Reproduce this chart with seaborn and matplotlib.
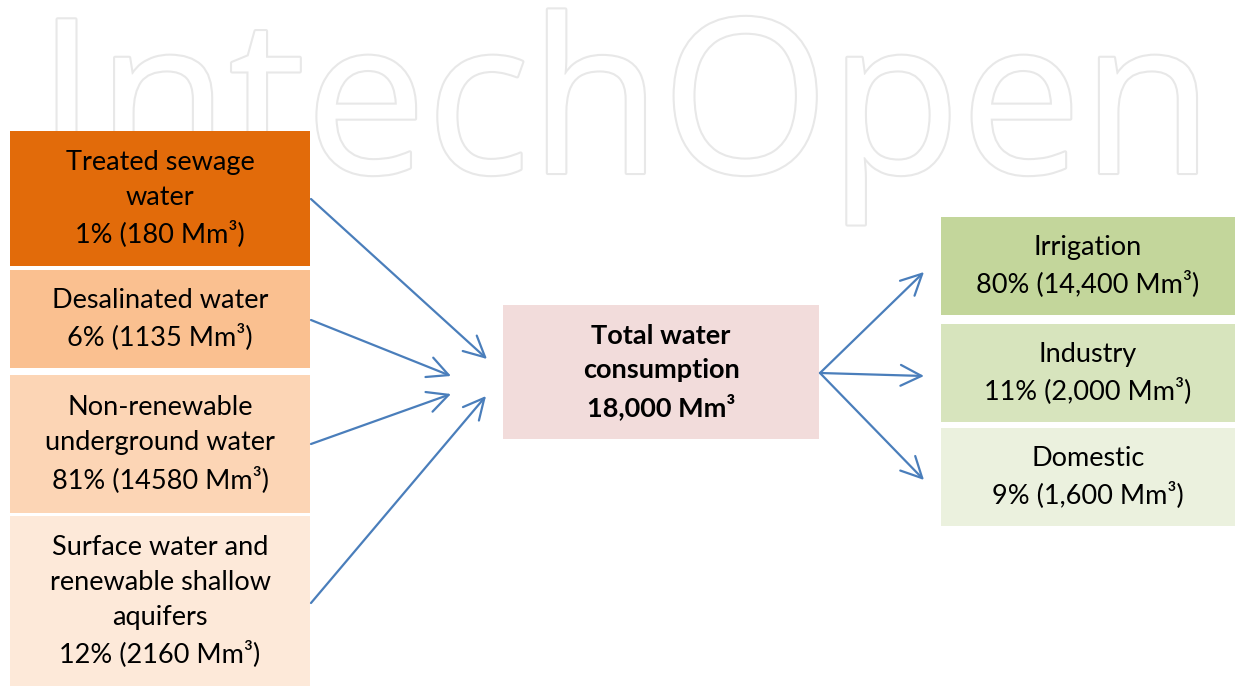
import matplotlib.pyplot as plt
import matplotlib.patheffects as pe
from matplotlib.patches import Rectangle
import seaborn as sb

# sources of water (left column)
source_names = ["Treated sewage\nwater", "Desalinated water",
                "Non-renewable\nunderground water",
                "Surface water and\nrenewable shallow\naquifers"]
source_pct = [1, 6, 81, 12]
source_vol = [180, 1135, 14580, 2160]

# total
total_name = "Total water\nconsumption"
total_vol = 18000

# uses of water (right column)
use_names = ["Irrigation", "Industry", "Domestic"]
use_pct = [80, 11, 9]
use_vol = [14400, 2000, 1600]

# layout in pixels (x0, y0, x1, y1)
source_boxes = [(10, 131, 310, 266), (10, 270, 310, 368),
                (10, 375, 310, 513), (10, 516, 310, 686)]
source_colors = ["#E26B0A", "#FAC090", "#FCD5B5", "#FDE9D9"]
source_arrow_start = [(311, 199), (311, 320), (311, 444), (311, 603)]
source_arrow_end = [(487, 359), (451, 376), (451, 394), (486, 396)]

total_box = (503, 305, 819, 439)
total_color = "#F2DCDB"

use_boxes = [(941, 217, 1235, 315), (941, 324, 1235, 422), (941, 428, 1235, 526)]
use_colors = ["#C3D69B", "#D7E4BD", "#EBF1DE"]
use_arrow_start = (820, 373)
use_arrow_end = [(924, 272), (924, 376), (924, 480)]

arrow_color = "#4A7EBB"

sb.set_style("white")
plt.rcParams['font.family'] = ['Lato', 'DejaVu Sans']

fig = plt.figure(figsize=(12.35, 6.86), dpi=100)
ax = fig.add_axes([0, 0, 1, 1])
ax.set_xlim(0, 1235)
ax.set_ylim(686, 0)
ax.axis('off')

# watermark
ax.text(625, 173, "IntechOpen", ha='center', va='baseline', fontsize=155,
        family='Open Sans', color='white', zorder=0,
        path_effects=[pe.withStroke(linewidth=3, foreground='#e8e8e8')])


def box(b, color, label, bold=False):
    x0, y0, x1, y1 = b
    ax.add_patch(Rectangle((x0, y0), x1 - x0, y1 - y0, facecolor=color,
                           edgecolor='none', zorder=2))
    ax.text((x0 + x1) / 2, (y0 + y1) / 2, label, ha='center', va='center',
            fontsize=19.5, linespacing=1.5, zorder=3,
            fontweight='bold' if bold else 'normal', color='black')


def arrow(start, end):
    ax.annotate("", xy=end, xytext=start, zorder=4,
                arrowprops=dict(arrowstyle="->,head_length=1.5,head_width=0.75",
                                color=arrow_color, lw=1.6,
                                shrinkA=0, shrinkB=0))


for i in range(len(source_names)):
    lab = f"{source_names[i]}\n{source_pct[i]}% ({source_vol[i]} Mm³)"
    box(source_boxes[i], source_colors[i], lab)
    arrow(source_arrow_start[i], source_arrow_end[i])

box(total_box, total_color, f"{total_name}\n{total_vol:,} Mm³", bold=True)

for i in range(len(use_names)):
    lab = f"{use_names[i]}\n{use_pct[i]}% ({use_vol[i]:,} Mm³)"
    box(use_boxes[i], use_colors[i], lab)
    arrow(use_arrow_start, use_arrow_end[i])

plt.savefig('out.png', dpi=100)
plt.close()
